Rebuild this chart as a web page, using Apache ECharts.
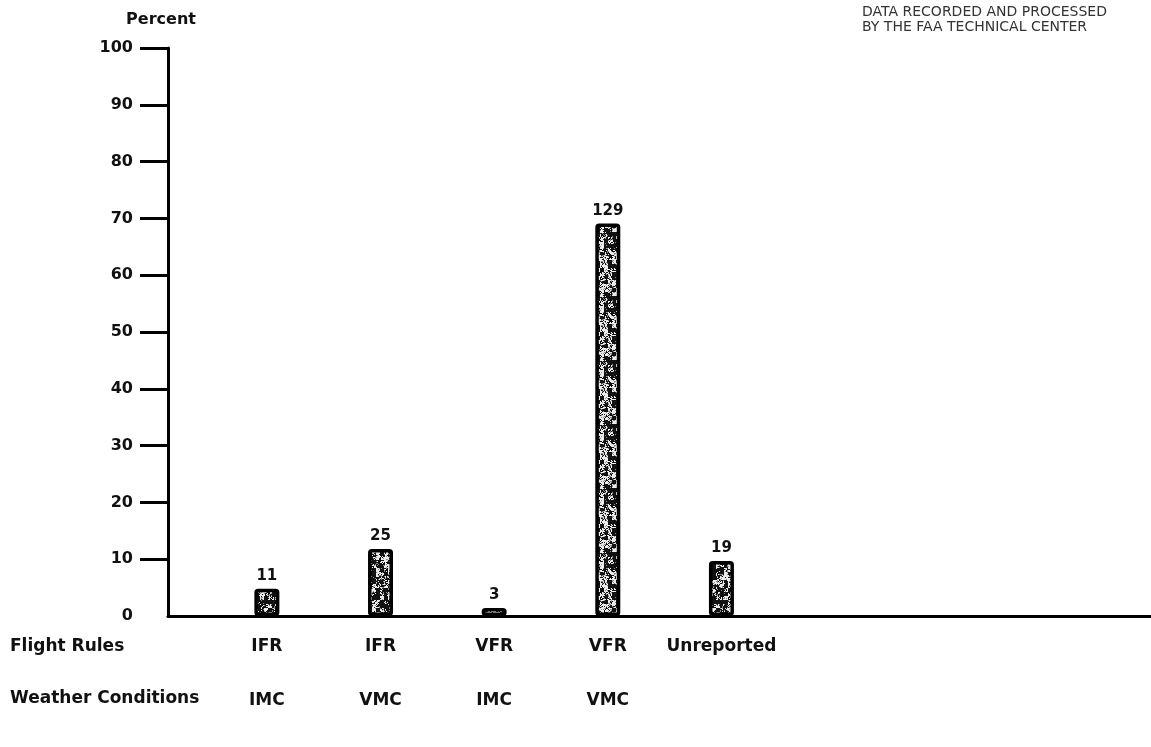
<!DOCTYPE html>
<html>
<head>
<meta charset="utf-8">
<script src="https://cdn.jsdelivr.net/npm/echarts@6/dist/echarts.min.js"></script>
<style>
html,body{margin:0;padding:0;background:#fff;}
#chart{width:1151px;height:747px;}
</style>
</head>
<body>
<div id="chart"></div>
<script>
// ---- data ----
var flightRules = ['IFR', 'IFR', 'VFR', 'VFR', 'Unreported'];
var weatherConditions = ['IMC', 'VMC', 'IMC', 'VMC', ''];
var percentValues = [4.8, 11.8, 1.4, 69.1, 9.7];
var counts = [11, 25, 3, 129, 19];
var yTicks = [0, 10, 20, 30, 40, 50, 60, 70, 80, 90, 100];
var rowTitles = ['Flight Rules', 'Weather Conditions'];
var noteLines = ['DATA RECORDED AND PROCESSED', 'BY THE FAA TECHNICAL CENTER'];

// ---- stipple texture (style only, deterministic) ----
function hash2(x, y) {
  var h = Math.imul(x | 0, 0x27d4eb2d) ^ Math.imul(y | 0, 0x165667b1);
  h = Math.imul(h ^ (h >>> 15), 0x85ebca6b);
  h = Math.imul(h ^ (h >>> 13), 0xc2b2ae35);
  h ^= h >>> 16;
  return (h >>> 0) / 4294967296;
}
function makePattern() {
  var S = 64;
  var c = document.createElement('canvas');
  c.width = S; c.height = S;
  var ctx = c.getContext('2d');
  var img = ctx.createImageData(S, S);
  for (var y = 0; y < S; y++) {
    for (var x = 0; x < S; x++) {
      var n = 0.55 * hash2((x >> 2) + 101, (y >> 2) + 7) + 0.45 * hash2(x + 13, y + 57);
      var v = n > 0.6 ? 235 : (n > 0.54 ? 140 : 18);
      var k = (y * S + x) * 4;
      img.data[k] = v; img.data[k + 1] = v; img.data[k + 2] = v; img.data[k + 3] = 255;
    }
  }
  ctx.putImageData(img, 0, 0);
  return c;
}
var pattern = makePattern();

var FONT = 'DejaVu Sans';
var positions = flightRules.map(function (_, i) { return i + 1; });

var chart = echarts.init(document.getElementById('chart'), null, {renderer: 'canvas'});
chart.setOption({
  animation: false,
  backgroundColor: '#ffffff',
  grid: {left: 168, right: 0, top: 48, bottom: 131, containLabel: false},
  xAxis: {
    type: 'value',
    min: 0.13,
    max: 8.78,
    splitLine: {show: false},
    axisLine: {show: true, lineStyle: {color: '#000', width: 3}},
    axisTick: {show: false},
    axisLabel: {
      show: true,
      customValues: positions,
      margin: 5,
      formatter: function (v) {
        var i = Math.round(v) - 1;
        var s = '{a|' + flightRules[i] + '}';
        if (weatherConditions[i]) s += '\n{b|' + weatherConditions[i] + '}';
        return s;
      },
      rich: {
        a: {fontFamily: FONT, fontWeight: 'bold', fontSize: 17, color: '#111', lineHeight: 52},
        b: {fontFamily: FONT, fontWeight: 'bold', fontSize: 17, color: '#111', lineHeight: 56}
      }
    }
  },
  yAxis: {
    type: 'value',
    min: 0,
    max: 100,
    interval: 10,
    name: 'Percent',
    nameLocation: 'end',
    nameGap: 20,
    nameTextStyle: {fontFamily: FONT, fontWeight: 'bold', fontSize: 16, color: '#111', align: 'center', padding: [0, 14, 0, 0]},
    splitLine: {show: false},
    axisLine: {show: true, lineStyle: {color: '#000', width: 3}},
    axisTick: {show: true, length: 28, customValues: yTicks.slice(1), lineStyle: {color: '#000', width: 3}},
    axisLabel: {
      margin: 35,
      customValues: yTicks,
      fontFamily: FONT, fontWeight: 'bold', fontSize: 16, color: '#111'
    }
  },
  series: [{
    type: 'bar',
    barWidth: 25,
    data: percentValues.map(function (v, i) { return [positions[i], v]; }),
    itemStyle: {
      color: {image: pattern, repeat: 'repeat'},
      borderColor: '#000',
      borderWidth: 3.5,
      borderRadius: 2
    },
    label: {
      show: true,
      position: 'top',
      distance: 5,
      formatter: function (p) { return String(counts[p.dataIndex]); },
      fontFamily: FONT, fontWeight: 'bold', fontSize: 15, color: '#111'
    }
  }],
  graphic: [
    {type: 'text', left: 10, top: 638, style: {text: rowTitles[0], font: 'bold 17px "DejaVu Sans"', fill: '#111'}},
    {type: 'text', left: 10, top: 690, style: {text: rowTitles[1], font: 'bold 17px "DejaVu Sans"', fill: '#111'}},
    {type: 'text', left: 862, top: 5, style: {text: noteLines[0], font: '14px "DejaVu Sans"', fill: '#333'}},
    {type: 'text', left: 862, top: 20, style: {text: noteLines[1], font: '14px "DejaVu Sans"', fill: '#333'}}
  ]
});
</script>
</body>
</html>
